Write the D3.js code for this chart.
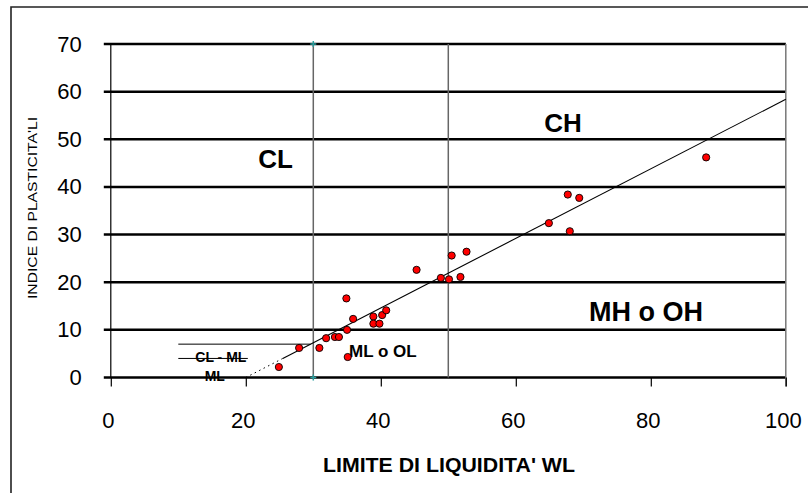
<!DOCTYPE html>
<html>
<head>
<meta charset="utf-8">
<script src="https://cdn.jsdelivr.net/npm/d3@7"></script>
<style>
  html, body { margin: 0; padding: 0; background: #fff; }
  svg { display: block; font-family: Arial, "Liberation Sans", sans-serif; }
</style>
</head>
<body>
<svg id="chart" width="808" height="493"></svg>
<script>
// Casagrande plasticity chart: liquid limit (WL) vs plasticity index (IP)
const liquidLimit = [24.9, 27.9, 30.9, 31.9, 33.2, 33.8, 35.0, 34.9, 35.9, 35.1, 38.9, 38.9, 39.8, 40.2, 40.8,
                     45.3, 48.9, 50.1, 50.5, 51.8, 52.7, 64.9, 67.7, 69.4, 68.0, 88.2];
const plasticityIndex = [2.2, 6.2, 6.2, 8.25, 8.5, 8.5, 10.0, 16.6, 12.3, 4.3, 12.8, 11.3, 11.3, 13.1, 14.1,
                         22.6, 20.9, 20.6, 25.6, 21.1, 26.4, 32.4, 38.4, 37.7, 30.7, 46.2];

const xTicks = [0, 20, 40, 60, 80, 100];
const yTicks = [0, 10, 20, 30, 40, 50, 60, 70];

// Zone boundaries
const zoneDividers = [30, 50];                 // vertical lines at WL = 30 and WL = 50
const aLineSlope = 0.73, aLineOrigin = 20;     // A-line: IP = 0.73 (WL - 20)
const clmlBand = [{ ip: 7, from: 10, to: 7 / 0.73 + 20 }, { ip: 4, from: 10, to: 20.3 }];

const zoneLabels = [
  { text: "CL", wl: 24.4, ip: 45.9, size: 26 },
  { text: "CH", wl: 67.0, ip: 53.4, size: 26 },
  { text: "MH o OH", wl: 79.3, ip: 13.8, size: 27 },
  { text: "ML o OL", wl: 40.3, ip: 5.4, size: 17 },
  { text: "CL - ML", wl: 16.3, ip: 4.2, size: 14 },
  { text: "ML", wl: 15.4, ip: 0.3, size: 14 }
];

const svg = d3.select("#chart");

const x = d3.scaleLinear().domain([0, 100]).range([110.8, 785.8]);
const y = d3.scaleLinear().domain([0, 70]).range([377.5, 44]);

// outer frame
svg.append("path")
  .attr("d", "M11,493 L11,7 L808,7")
  .attr("fill", "none").attr("stroke", "#222").attr("stroke-width", 1.6);

// horizontal gridlines (heavy)
svg.append("g").selectAll("line").data(yTicks).join("line")
  .attr("x1", x(0) - 7).attr("x2", x(100))
  .attr("y1", d => y(d)).attr("y2", d => y(d))
  .attr("stroke", "#000").attr("stroke-width", 2.5);

// zone dividers
svg.append("g").selectAll("line").data(zoneDividers).join("line")
  .attr("x1", d => x(d)).attr("x2", d => x(d))
  .attr("y1", y(70)).attr("y2", y(0))
  .attr("stroke", "#666").attr("stroke-width", 1.5);

// right edge of plot area
svg.append("line")
  .attr("x1", x(100)).attr("x2", x(100)).attr("y1", y(70)).attr("y2", y(0) + 9)
  .attr("stroke", "#777").attr("stroke-width", 1.5);

// small teal markers on the WL = 30 divider
svg.append("g").selectAll("path").data([70, 0]).join("path")
  .attr("d", d => `M${x(30) - 3},${y(d)} L${x(30) + 3},${y(d)} M${x(30)},${y(d) - 3} L${x(30)},${y(d) + 3}`)
  .attr("stroke", "#2a9d9d").attr("stroke-width", 1.5);

// y axis
const yAxis = svg.append("g")
  .attr("transform", `translate(${x(0)},0)`)
  .call(d3.axisLeft(y).tickValues(yTicks).tickSize(7).tickPadding(22));
yAxis.select(".domain").remove();
yAxis.selectAll(".tick line").remove();
yAxis.selectAll(".tick text").attr("font-size", 22).attr("font-family", "Arial, 'Liberation Sans', sans-serif").attr("fill", "#000");
svg.append("line")
  .attr("x1", x(0)).attr("x2", x(0)).attr("y1", y(70)).attr("y2", y(0))
  .attr("stroke", "#000").attr("stroke-width", 1.2);

// x axis
const xAxis = svg.append("g")
  .attr("transform", `translate(0,${y(0)})`)
  .call(d3.axisBottom(x).tickValues(xTicks).tickSize(9).tickPadding(26));
xAxis.select(".domain").remove();
xAxis.selectAll(".tick line").attr("stroke", "#000").attr("stroke-width", 1.2);
xAxis.selectAll(".tick text").attr("font-size", 22).attr("dx", -3).attr("font-family", "Arial, 'Liberation Sans', sans-serif").attr("fill", "#000");

// CL-ML band limits
svg.append("g").selectAll("line").data(clmlBand).join("line")
  .attr("x1", d => x(d.from)).attr("x2", d => x(d.to))
  .attr("y1", d => y(d.ip)).attr("y2", d => y(d.ip))
  .attr("stroke", "#000").attr("stroke-width", 1);

// A-line: dotted below IP = 4, solid above
const aLine = wl => aLineSlope * (wl - aLineOrigin);
const wlAt4 = 4 / aLineSlope + aLineOrigin;
svg.append("line")
  .attr("x1", x(aLineOrigin)).attr("y1", y(0))
  .attr("x2", x(wlAt4)).attr("y2", y(4))
  .attr("stroke", "#000").attr("stroke-width", 1).attr("stroke-dasharray", "1.5,3.5");
svg.append("line")
  .attr("x1", x(wlAt4)).attr("y1", y(4))
  .attr("x2", x(100)).attr("y2", y(aLine(100)))
  .attr("stroke", "#000").attr("stroke-width", 1.1);

// zone labels
svg.append("g").selectAll("text").data(zoneLabels).join("text")
  .attr("x", d => x(d.wl)).attr("y", d => y(d.ip))
  .attr("text-anchor", "middle").attr("dominant-baseline", "central")
  .attr("font-weight", "bold").attr("font-size", d => d.size)
  .attr("fill", "#000")
  .text(d => d.text);

// samples
svg.append("g").selectAll("circle").data(liquidLimit.map((wl, i) => [wl, plasticityIndex[i]])).join("circle")
  .attr("cx", d => x(d[0])).attr("cy", d => y(d[1])).attr("r", 3.6)
  .attr("fill", "#ff0000").attr("stroke", "#000").attr("stroke-width", 0.9);

// axis titles
svg.append("text")
  .attr("x", 449).attr("y", 465)
  .attr("text-anchor", "middle").attr("dominant-baseline", "central")
  .attr("font-weight", "bold").attr("font-size", 20)
  .attr("textLength", 252).attr("lengthAdjust", "spacingAndGlyphs")
  .text("LIMITE DI LIQUIDITA' WL");

svg.append("text")
  .attr("transform", "translate(33,208) rotate(-90)")
  .attr("text-anchor", "middle").attr("dominant-baseline", "central")
  .attr("font-size", 12.5)
  .attr("textLength", 182).attr("lengthAdjust", "spacingAndGlyphs")
  .text("INDICE DI PLASTICITA'LI");
</script>
</body>
</html>
